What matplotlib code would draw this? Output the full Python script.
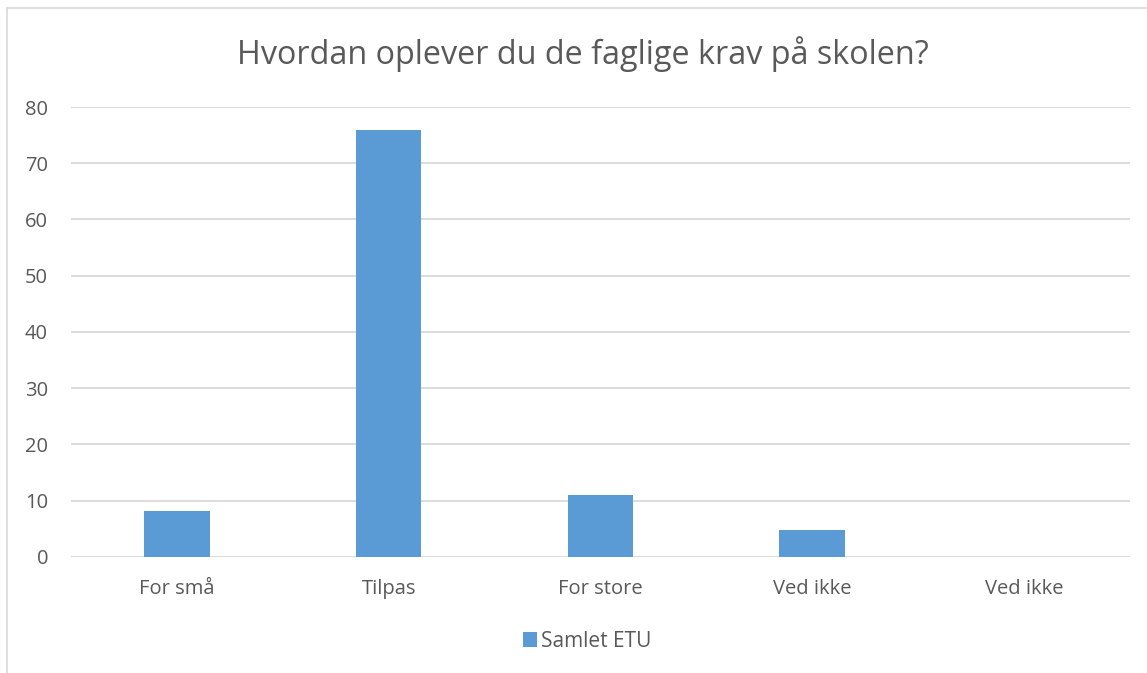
import matplotlib.pyplot as plt
from matplotlib.lines import Line2D

# Data
categories = ['For små', 'Tilpas', 'For store', 'Ved ikke', 'Ved ikke']
values = [8.2, 75.85, 11.1, 4.75, 0]
series_name = 'Samlet ETU'

bar_color = '#5B9BD5'
text_color = '#595959'
grid_color = '#D9D9D9'

plt.rcParams['font.family'] = ['Open Sans', 'DejaVu Sans']

fig = plt.figure(figsize=(11.47, 6.73), dpi=100)
ax = fig.add_axes([0.0619, 0.1724, 0.9231, 0.6686])

x = range(len(categories))
ax.bar(x, values, width=0.31, color=bar_color, label=series_name, zorder=3)

ax.set_xlim(-0.5, len(categories) - 0.5)
ax.set_ylim(0, 80)
ax.set_yticks(range(0, 81, 10))
ax.set_xticks(list(x))
ax.set_xticklabels(categories)

ax.grid(axis='y', color=grid_color, linewidth=1.3, zorder=0)
for s in ax.spines.values():
    s.set_visible(False)
ax.tick_params(axis='both', length=0, labelsize=14.5, colors=text_color)
ax.tick_params(axis='y', pad=16.5)
ax.tick_params(axis='x', pad=16)

fig.text(0.508, 0.92, 'Hvordan oplever du de faglige krav på skolen?',
         ha='center', va='center', fontsize=23.3, color=text_color)

leg = fig.legend(loc='center', bbox_to_anchor=(0.512, 0.047), frameon=False,
                 fontsize=15, handlelength=0.7, handleheight=0.7, handletextpad=0.2)
for t in leg.get_texts():
    t.set_color(text_color)

# chart border (cropped on right/bottom)
fig.add_artist(Line2D([0.0061, 0.0061], [0, 0.988], transform=fig.transFigure,
                      color=grid_color, linewidth=1.2))
fig.add_artist(Line2D([0.0061, 1], [0.988, 0.988], transform=fig.transFigure,
                      color=grid_color, linewidth=1.2))

fig.savefig('out.png', dpi=100)
